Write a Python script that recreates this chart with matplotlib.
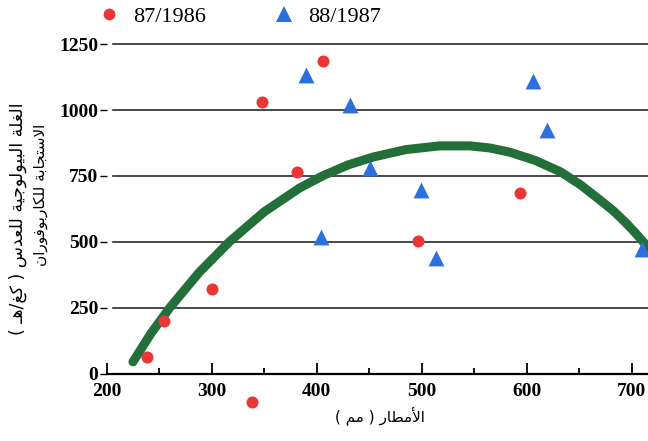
import matplotlib
matplotlib.use("Agg")
import matplotlib.pyplot as plt
from matplotlib.lines import Line2D

# ---------------- data ----------------
rain_1986 = [238, 255, 300, 348, 381, 406, 496, 594, 338]
yield_1986 = [63, 200, 320, 1031, 766, 1187, 503, 684, -106]

rain_1987 = [390, 432, 404, 451, 499, 514, 606, 619, 710]
yield_1987 = [1133, 1019, 517, 779, 697, 440, 1110, 924, 473]

curve_x = [225, 242, 260, 288, 317, 350, 384, 406, 430, 454, 485, 517, 546,
           565, 584, 608, 632, 651, 670, 683, 695, 703, 711, 716]
curve_y = [45, 152, 250, 384, 501, 614, 705, 751, 792, 822, 850, 864, 864,
           856, 840, 809, 766, 717, 658, 616, 570, 536, 500, 478]

x_ticks = [200, 300, 400, 500, 600, 700]
y_ticks = [0, 250, 500, 750, 1000, 1250]
legend_labels = ["87/1986", "88/1987"]

x_label = "الأمطار ( مم )"
y_label_1 = "الغلة البيولوجية للعدس ( كغ/هـ )"
y_label_2 = "الاستجابة للكاربوفوران"

# ------------- Arabic shaping (presentation forms, visual order) -------------
FORMS = {
    'ا': ('\uFE8D', '\uFE8E', None, None),
    'أ': ('\uFE83', '\uFE84', None, None),
    'ب': ('\uFE8F', '\uFE90', '\uFE91', '\uFE92'),
    'ة': ('\uFE93', '\uFE94', None, None),
    'ت': ('\uFE95', '\uFE96', '\uFE97', '\uFE98'),
    'ج': ('\uFE9D', '\uFE9E', '\uFE9F', '\uFEA0'),
    'د': ('\uFEA9', '\uFEAA', None, None),
    'ر': ('\uFEAD', '\uFEAE', None, None),
    'س': ('\uFEB1', '\uFEB2', '\uFEB3', '\uFEB4'),
    'ط': ('\uFEC1', '\uFEC2', '\uFEC3', '\uFEC4'),
    'ع': ('\uFEC9', '\uFECA', '\uFECB', '\uFECC'),
    'غ': ('\uFECD', '\uFECE', '\uFECF', '\uFED0'),
    'ف': ('\uFED1', '\uFED2', '\uFED3', '\uFED4'),
    'ك': ('\uFED9', '\uFEDA', '\uFEDB', '\uFEDC'),
    'ل': ('\uFEDD', '\uFEDE', '\uFEDF', '\uFEE0'),
    'م': ('\uFEE1', '\uFEE2', '\uFEE3', '\uFEE4'),
    'ن': ('\uFEE5', '\uFEE6', '\uFEE7', '\uFEE8'),
    'ه': ('\uFEE9', '\uFEEA', '\uFEEB', '\uFEEC'),
    'و': ('\uFEED', '\uFEEE', None, None),
    'ي': ('\uFEF1', '\uFEF2', '\uFEF3', '\uFEF4'),
}
LAM_ALEF = {'ا': ('\uFEFB', '\uFEFC'), 'أ': ('\uFEF7', '\uFEF8')}
TATWEEL = '\u0640'


def _joins_next(ch):
    return ch == TATWEEL or (ch in FORMS and FORMS[ch][2] is not None)


def _joinable(ch):
    return ch == TATWEEL or ch in FORMS


def shape(s):
    out = []
    i, n = 0, len(s)
    while i < n:
        ch = s[i]
        prev = s[i - 1] if i > 0 else ''
        pj = _joins_next(prev)
        if ch == 'ل' and i + 1 < n and s[i + 1] in LAM_ALEF:
            iso, fin = LAM_ALEF[s[i + 1]]
            out.append(fin if pj else iso)
            i += 2
            continue
        if ch in FORMS:
            iso, fin, ini, med = FORMS[ch]
            nxt = s[i + 1] if i + 1 < n else ''
            nj = ini is not None and _joinable(nxt)
            if pj and nj:
                out.append(med)
            elif pj:
                out.append(fin)
            elif nj:
                out.append(ini)
            else:
                out.append(iso)
        else:
            out.append(ch)
        i += 1
    vis = ''.join(reversed(out))
    return vis.translate(str.maketrans('()', ')('))


# ---------------- figure ----------------
W, H = 648, 441
fig = plt.figure(figsize=(W / 100, H / 100), dpi=100)
fig.patch.set_facecolor("white")

xmin, xmax = 200, 715.5
ymin, ymax = -150, 1300
ax = fig.add_axes([106.7 / W, 27.7 / H, (W - 106.7) / W, (413.3 - 30.9) / H])
ax.set_xlim(xmin, xmax)
ax.set_ylim(ymin, ymax)

red = "#ec3535"
blue = "#2b70dc"
green = "#236f3a"

for v in y_ticks[1:]:
    ax.axhline(v, xmin=0.012, xmax=1, color="#2a2a2a", lw=1.2, zorder=1)

ax.plot(curve_x, curve_y, color=green, lw=6.5, solid_capstyle="round",
        solid_joinstyle="round", zorder=2)

ax.scatter(rain_1986, yield_1986, s=75, color=red, marker="o",
           linewidths=0, zorder=3, clip_on=False)
ax.scatter(rain_1987, yield_1987, s=130, color=blue, marker="^",
           linewidths=0, zorder=3)

for side in ["top", "right", "left"]:
    ax.spines[side].set_visible(False)
ax.spines["bottom"].set_position(("data", 0))
ax.spines["bottom"].set_linewidth(1.6)

ax.set_xticks(x_ticks)
ax.set_xticks([250, 350, 450, 550, 650], minor=True)
ax.set_yticks(y_ticks)

tick_font = dict(family="Liberation Serif", weight="bold", size=14)
ax.set_xticklabels([str(t) for t in x_ticks], **tick_font)
ax.set_yticklabels([str(t) for t in y_ticks], **tick_font)
ax.tick_params(axis="x", which="major", direction="in", length=8, width=1.3, pad=7)
ax.tick_params(axis="x", which="minor", direction="in", length=4, width=1.3)
ax.tick_params(axis="y", which="major", direction="out", length=5, width=1.0, pad=1)

# x-label and y-labels (Arabic)
fig.text(380 / W, 1 - 416 / H, shape(x_label), family="DejaVu Sans",
         fontsize=11, ha="center", va="center")
fig.text(18 / W, 1 - 219 / H, shape(y_label_1), family="DejaVu Sans",
         fontsize=12.5, rotation=90, ha="center", va="center")
fig.text(41 / W, 1 - 195 / H, shape(y_label_2), family="DejaVu Sans",
         fontsize=11, rotation=90, ha="center", va="center")

# legend
handles = [
    Line2D([], [], ls="none", marker="o", ms=8.5, color=red, mew=0),
    Line2D([], [], ls="none", marker="^", ms=12, color=blue, mew=0),
]
fig.legend(handles, legend_labels, loc="center left",
           bbox_to_anchor=(98 / W, 1 - 17 / H), ncol=2, frameon=False,
           prop=dict(family="Liberation Serif", size=16),
           handlelength=1.0, handletextpad=0.58, columnspacing=3.03,
           borderaxespad=0, borderpad=0)

fig.savefig("out.png", dpi=100, facecolor="white")
